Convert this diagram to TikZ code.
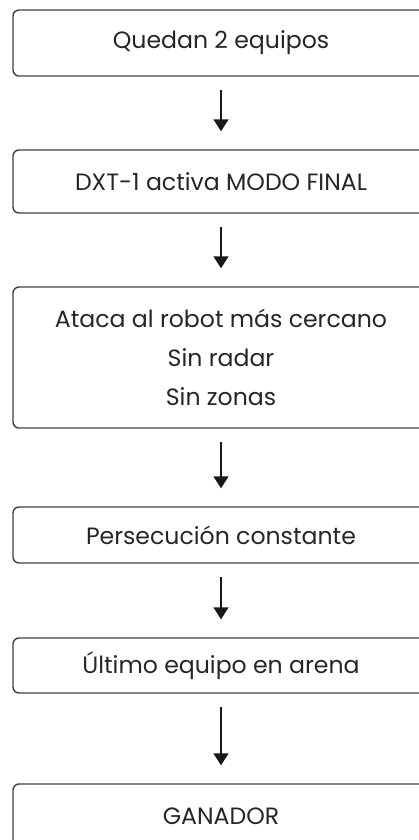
\documentclass[tikz,border=0pt]{standalone}
\usepackage{fontspec}
\setmainfont{Poppins}
\usepackage{tikz}
\usetikzlibrary{positioning,calc,arrows.meta}
\tikzset{
  flowfont/.style={font=\fontsize{23.6}{39}\selectfont, text=black!85},
  flowbox/.style={draw=black!75, line width=1.4pt, rounded corners=6pt, align=center,
    minimum width=416pt, inner sep=0pt},
  flowarrow/.style={-{Triangle[width=15pt,length=12pt]}, line width=1.5pt, black!90,
    shorten <=13pt, shorten >=18pt},
}

\begin{document}
\begin{tikzpicture}[x=1pt, y=1pt, flowfont]
		\useasboundingbox (0,0) rectangle (419,-840);
		\clip (0,0) rectangle (419,-840);
			% Boxes
			\node[flowbox, minimum height=66pt] (equipos) at (221,-43) {Quedan 2 equipos};
			\node[flowbox, minimum height=63pt] (modo) at (221,-181.5) {DXT-1 activa MODO FINAL};
			\node[flowbox, minimum height=141pt] (ataca) at (221,-357.5) {Ataca al robot más cercano\\Sin radar\\Sin zonas};
			\node[flowbox, minimum height=56pt] (persecucion) at (221,-535) {Persecución constante};
			\node[flowbox, minimum height=55pt] (ultimo) at (221,-665.5) {Último equipo en arena};
			\node[flowbox, minimum height=64pt] (ganador) at (221,-816) {GANADOR};

		% Arrows
			\draw[flowarrow] (equipos) -- (modo);
			\draw[flowarrow] (modo) -- (ataca);
			\draw[flowarrow] (ataca) -- (persecucion);
			\draw[flowarrow] (persecucion) -- (ultimo);
			\draw[flowarrow] (ultimo) -- (ganador);
		\end{tikzpicture}
\end{document}
